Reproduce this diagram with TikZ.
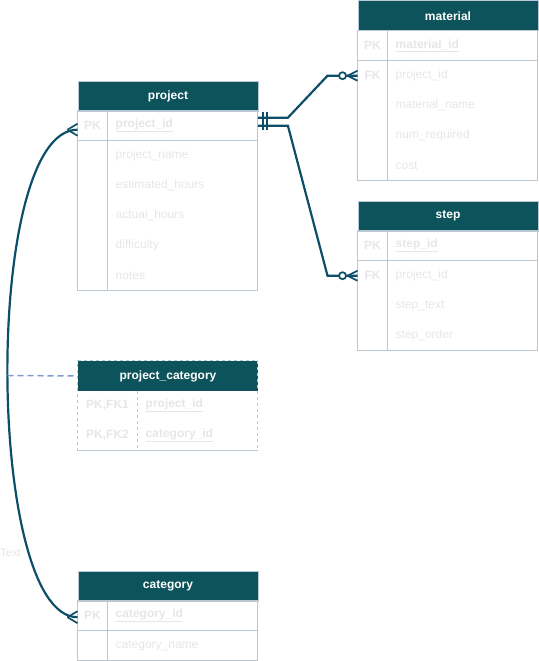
\documentclass[tikz,border=0pt]{standalone}
\usepackage{fontspec}
\setmainfont{Liberation Sans}
\definecolor{hdrfill}{HTML}{0D535B}
\definecolor{edgeblue}{HTML}{0D4E69}
\definecolor{gridline}{HTML}{BAC8D3}
\definecolor{faint}{HTML}{E6E6E6}
\definecolor{dashblue}{HTML}{7C9CCF}
\tikzset{
  hdr/.style={fill=hdrfill, draw=gridline, line width=1pt, minimum width=180pt, minimum height=30pt,
    inner sep=0pt, text=white, font=\fontsize{12}{14}\selectfont\bfseries, anchor=north west},
  rowbox/.style={minimum width=180pt, minimum height=30pt, inner sep=0pt, anchor=north west},
  keytxt/.style={text=faint, font=\fontsize{12}{14}\selectfont\bfseries, inner sep=0pt},
  fldtxt/.style={text=faint, font=\fontsize{12}{14}\selectfont, inner sep=0pt, anchor=west},
  pkfld/.style={fldtxt, font=\fontsize{12}{14}\selectfont\bfseries},
  gridpen/.style={draw=gridline, line width=1pt},
  gridpendash/.style={draw=gridline, line width=1pt, dash pattern=on 3pt off 3pt},
  rel/.style={draw=edgeblue, line width=2.2pt},
  relfoot/.style={draw=edgeblue, line width=1.7pt},
  notelink/.style={draw=dashblue, line width=1.5pt, dash pattern=on 6pt off 4pt},
  notetxt/.style={text=faint, font=\fontsize{11}{13}\selectfont, inner sep=0pt},
}
% table frame: name, x, y (top), title, body rows, key column width
\newcommand{\erframe}[6]{%
  \node[hdr] (#1) at (#2,#3) {#4};
  \node[rowbox] (#1-pk) at (#2,#3+30) {};
  \draw[gridpen] (#2,#3+30) rectangle (#2+180,#3+30+30*#5);
  \draw[gridpen] (#2,#3+60) -- (#2+180,#3+60);
  \draw[gridpen] (#2+#6,#3+30) -- (#2+#6,#3+30+30*#5);
}
\begin{document}
\begin{tikzpicture}[x=1pt,y=-1pt]
\useasboundingbox (0,0) rectangle (538,661);

% ---------- material ----------
\erframe{material}{357.5}{0.5}{material}{5}{30}
\node[rowbox] (material-fk) at (357.5,60.5) {};
\node[keytxt] (material-k1) at (372.5,45.5) {PK};
\node[pkfld] (material-f1) at (395.5,45.5) {\underline{material\_id}};
\node[keytxt] (material-k2) at (372.5,75.5) {FK};
\node[fldtxt] (material-f2) at (395.5,75.5) {project\_id};
\node[fldtxt] (material-f3) at (395.5,105.5) {material\_name};
\node[fldtxt] (material-f4) at (395.5,135.5) {num\_required};
\node[fldtxt] (material-f5) at (395.5,165.5) {cost};

% ---------- project ----------
\erframe{project}{77.5}{80.5}{project}{6}{30}
\node[keytxt] (project-k1) at (92.5,125.5) {PK};
\node[pkfld] (project-f1) at (115.5,125.5) {\underline{project\_id}};
\node[fldtxt] (project-f2) at (115.5,155.5) {project\_name};
\node[fldtxt] (project-f3) at (115.5,185.5) {estimated\_hours};
\node[fldtxt] (project-f4) at (115.5,215.5) {actual\_hours};
\node[fldtxt] (project-f5) at (115.5,245.5) {difficulty};
\node[fldtxt] (project-f6) at (115.5,275.5) {notes};

% ---------- step ----------
\erframe{step}{357.5}{200.5}{step}{4}{30}
\node[rowbox] (step-fk) at (357.5,260.5) {};
\node[keytxt] (step-k1) at (372.5,245.5) {PK};
\node[pkfld] (step-f1) at (395.5,245.5) {\underline{step\_id}};
\node[keytxt] (step-k2) at (372.5,275.5) {FK};
\node[fldtxt] (step-f2) at (395.5,275.5) {project\_id};
\node[fldtxt] (step-f3) at (395.5,305.5) {step\_text};
\node[fldtxt] (step-f4) at (395.5,335.5) {step\_order};

% ---------- project_category (dashed outline) ----------
\node[hdr, draw=none] (project_category) at (77.5,360.5) {project\_category};
\draw[gridpendash] (77.5,450.5) -- (77.5,360.5) -- (257.5,360.5) -- (257.5,450.5);
\draw[gridpen] (77.5,450.5) -- (257.5,450.5);
\draw[gridpendash] (137.5,390.5) -- (137.5,450.5);
\node[keytxt] (pc-k1) at (107.5,405.5) {PK,FK1};
\node[pkfld] (pc-f1) at (145.5,405.5) {\underline{project\_id}};
\node[keytxt] (pc-k2) at (107.5,435.5) {PK,FK2};
\node[pkfld] (pc-f2) at (145.5,435.5) {\underline{category\_id}};

% ---------- category ----------
\erframe{category}{77.5}{570.5}{category}{2}{30}
\node[keytxt] (category-k1) at (92.5,615.5) {PK};
\node[pkfld] (category-f1) at (115.5,615.5) {\underline{category\_id}};
\node[fldtxt] (category-f2) at (115.5,645.5) {category\_name};

% ---------- relationships ----------
% project (one) -> material (zero or many)
\draw[rel] ([yshift=8pt]project-pk.east) -- ++(30,0) -- ([xshift=-30pt]material-fk.west) -- (material-fk.west);
\draw[relfoot] ([xshift=-10pt]material-fk.west) -- ([yshift=5pt]material-fk.west);
\draw[relfoot] ([xshift=-10pt]material-fk.west) -- ([yshift=-5pt]material-fk.west);
\draw[relfoot, fill=white] ([xshift=-15pt]material-fk.west) circle (3.5pt);

% project (one) -> step (zero or many)
\draw[rel] (project-pk.east) -- ++(30,0) -- ([xshift=-30pt]step-fk.west) -- (step-fk.west);
\draw[relfoot] ([xshift=-10pt]step-fk.west) -- ([yshift=5pt]step-fk.west);
\draw[relfoot] ([xshift=-10pt]step-fk.west) -- ([yshift=-5pt]step-fk.west);
\draw[relfoot, fill=white] ([xshift=-15pt]step-fk.west) circle (3.5pt);

% mandatory-one bars at the project side
\draw[rel] ([xshift=5pt,yshift=13.5pt]project-pk.east) -- ([xshift=5pt,yshift=-4pt]project-pk.east);
\draw[rel] ([xshift=9pt,yshift=13.5pt]project-pk.east) -- ([xshift=9pt,yshift=-4pt]project-pk.east);

% many-to-many link between project and category
\draw[rel] ([yshift=-4pt]project-pk.west) .. controls +(-95,0) and +(-92,0) .. ([yshift=-1.5pt]category-pk.west);
\draw[relfoot] ([xshift=-10pt,yshift=-4pt]project-pk.west) -- ([yshift=2pt]project-pk.west);
\draw[relfoot] ([xshift=-10pt,yshift=-4pt]project-pk.west) -- ([yshift=-10pt]project-pk.west);
\draw[relfoot] ([xshift=-10pt,yshift=-1.5pt]category-pk.west) -- ([yshift=4.5pt]category-pk.west);
\draw[relfoot] ([xshift=-10pt,yshift=-1.5pt]category-pk.west) -- ([yshift=-7.5pt]category-pk.west);

% associative table attached to the link
\coordinate (pc-tap) at (7.5,375.5);
\draw[notelink] (pc-tap) -- (project_category.west);

\node[notetxt] (note) at (10.5,553) {Text};
\end{tikzpicture}
\end{document}
